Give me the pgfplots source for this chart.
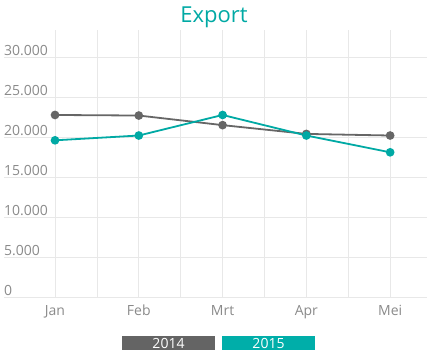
\documentclass[border=0pt]{standalone}
\usepackage{pgfplots}
\pgfplotsset{compat=1.18}
\usepackage{fontspec}
\setmainfont{Open Sans}
\definecolor{teal1}{HTML}{00A9A4}
\definecolor{gray1}{HTML}{666666}
\definecolor{boxgray}{HTML}{646464}
\definecolor{boxteal}{HTML}{00AEA9}
\definecolor{lbl}{HTML}{8A8A8A}
\definecolor{grd}{HTML}{E8E8E8}
\begin{document}
\begin{tikzpicture}
\path[use as bounding box] (0,0) rectangle (428pt,359pt);
\begin{axis}[
  at={(4pt,62pt)}, anchor=south west,
  scale only axis, width=423pt, height=267pt,
  xmin=-0.609, xmax=4.44, ymin=0, ymax=33400,
  axis line style={draw=none},
  xtick={0,1,2,3,4}, xticklabels={Jan,Feb,Mrt,Apr,Mei},
  minor xtick={0.5,1.5,2.5,3.5},
  ytick={0,5000,10000,15000,20000,25000,30000},
  scaled y ticks=false,
  yticklabel={\pgfmathprintnumber[fixed, precision=0, 1000 sep={.}, assume math mode=true]{\tick}},
  major tick length=0pt, minor tick length=0pt,
  xmajorgrids, xminorgrids, ymajorgrids,
  grid style={draw=grd, line width=0.8pt},
  minor grid style={draw=grd, line width=0.8pt},
  yticklabel style={anchor=south west, inner xsep=0pt, inner ysep=1pt, text=lbl, font=\fontsize{14}{16}\selectfont},
  xticklabel style={text=lbl, font=\fontsize{14}{16}\selectfont, yshift=-4.5pt},
  clip=false,
]
\addplot[gray1, line width=1.8pt, mark=*, mark size=3.4pt, mark options={fill=gray1, draw=gray1}]
  coordinates {(0,22770) (1,22700) (2,21500) (3,20400) (4,20200)};
\addplot[teal1, line width=1.8pt, mark=*, mark size=3.4pt, mark options={fill=teal1, draw=teal1}]
  coordinates {(0,19600) (1,20200) (2,22770) (3,20200) (4,18100)};
\end{axis}
\node[text=teal1, font=\fontsize{22}{26}\selectfont] at (214pt,342pt) {Export};
\fill[boxgray] (122pt,9pt) rectangle (215pt,23pt);
\fill[boxteal] (222pt,9pt) rectangle (315pt,23pt);
\node[text=white, font=\fontsize{14}{16}\selectfont] at (168.5pt,16pt) {2014};
\node[text=white, font=\fontsize{14}{16}\selectfont] at (268.5pt,16pt) {2015};
\end{tikzpicture}
\end{document}
